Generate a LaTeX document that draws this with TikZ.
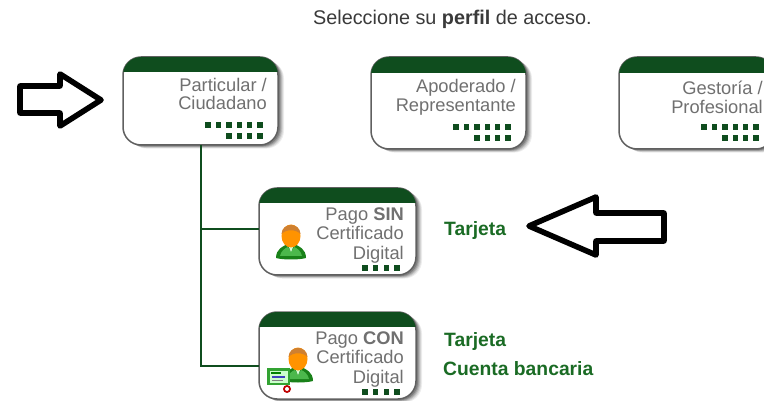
\documentclass[tikz,border=0pt]{standalone}
\usepackage{fontspec}
\setmainfont{Liberation Sans}
\definecolor{hdr}{HTML}{0F4D1E}
\definecolor{lbl}{HTML}{707070}
\definecolor{hd}{HTML}{3A3A3A}
\definecolor{tg}{HTML}{1A6B24}
\definecolor{edge}{HTML}{606060}
\tikzset{
  cardbox/.style={draw=edge,fill=white,line width=1.5pt,rounded corners=18pt,inner sep=0pt,outer sep=0pt},
  cardlabel/.style={text=lbl,align=right,inner sep=0pt,font=\fontsize{18.3}{18.6}\selectfont},
  optlabel/.style={text=tg,inner sep=0pt,anchor=base west,font=\fontsize{19.3}{20}\selectfont\bfseries},
  tree/.style={draw=hdr,line width=2pt},
  bigarrow/.style={draw=black,line width=5.6pt,fill=white,line join=round},
  dotsq/.style={fill=hdr}
}
\newcommand{\card}[6]{%
  \foreach \d/\o in {6/.07,5/.09,4/.12,3/.15,2/.2}{
    \fill[black,opacity=\o,rounded corners=18pt] ({#2+\d},{#3+\d*.6}) rectangle ({#4+\d},{#5+\d*.6});
  }
  \node[cardbox,minimum width={(#4-#2)*1pt},minimum height={(#5-#3)*1pt}] (#1) at ({(#2+#4)/2},{(#3+#5)/2}) {};
  \begin{scope}
    \clip[rounded corners=18pt] (#2,#3) rectangle (#4,#5);
    \fill[hdr] (#2,#3) rectangle (#4,#6);
  \end{scope}
}
\newcommand{\sq}[2]{\fill[dotsq] ({#1-2.7},{#2-2.7}) rectangle ({#1+2.7},{#2+2.7});}
\newcommand{\sixdots}[3]{%
  \foreach \i in {0,...,5}{\sq{#1+\i*10.4}{#2}}
  \foreach \i in {2,...,5}{\sq{#1+\i*10.4}{#3}}
}
\newcommand{\fourdots}[2]{\foreach \i in {0,...,3}{\sq{#1+\i*10.6}{#2}}}
\newcommand{\person}[2]{%
  \begin{scope}[shift={(#1,#2)}]
    \fill[green!45!black!90] (-15,21) .. controls (-15,12) and (-8,9) .. (-3,7) -- (3,7) .. controls (8,9) and (15,12) .. (15,21) .. controls (8,23) and (-8,23) .. (-15,21) -- cycle;
    \fill[green!60!black!70] (-11,19) .. controls (-10,14) and (-6,11) .. (-3,10) -- (0,15) -- (3,10) .. controls (6,11) and (10,14) .. (11,19) -- cycle;
    \fill[white!85!green] (-3,8) -- (0,15) -- (3,8) -- cycle;
    \fill[orange!85!yellow] (0,-1) ellipse (9.5 and 11.5);
    \fill[brown!75!orange] (-9.5,-3) .. controls (-9,-15) and (9,-15) .. (9.5,-3) .. controls (5,-8) and (-5,-8) .. (-9.5,-3) -- cycle;
  \end{scope}
}
\begin{document}
\begin{tikzpicture}[x=1pt,y=-1pt]
\useasboundingbox (0,0) rectangle (764,401);
\clip (0,0) rectangle (764,401);
\fill[white] (0,0) rectangle (764,401);

\node[text=hd,inner sep=0pt,anchor=base west,font=\fontsize{19.8}{20}\selectfont] (title) at (313,24.5) {Seleccione su \textbf{perfil} de acceso.};

% connectors
\coordinate (s1in) at (259,229);
\coordinate (s2in) at (259,366);

\card{p}{123}{57}{278}{145}{72}
\card{a}{371}{57}{526}{149}{73}
\card{g}{619}{57}{774}{149}{73}
\card{s1}{259}{188}{416}{275}{203}
\card{s2}{259}{312}{416}{399}{327}

\draw[tree] (p.south) |- (s2in);
\draw[tree] (p.south |- s1in) -- (s1in);

\node[cardlabel,anchor=east] (pt) at (267,94) {Particular /\\Ciudadano};
\node[cardlabel,anchor=east] (at) at (516,97.5) {Apoderado /\\Representante};
\node[cardlabel,anchor=east] (gt) at (763,97.5) {Gestoría /\\Profesional};
\node[cardlabel,anchor=east,font=\fontsize{18.3}{19.6}\selectfont] (s1t) at (404,235.5) {Pago \textbf{SIN}\\Certificado\\Digital};
\node[cardlabel,anchor=east,font=\fontsize{18.3}{19.6}\selectfont] (s2t) at (404,359.5) {Pago \textbf{CON}\\Certificado\\Digital};

\sixdots{208}{125}{136}
\sixdots{456}{127}{138}
\sixdots{704}{127}{138}
\fourdots{365}{268}
\fourdots{365}{392}

\person{291}{237}
\person{298}{360}
% certificate
\fill[green!55!black!80] (267,368) rectangle (290,385);
\fill[white!80!green] (269.5,370.5) rectangle (287.5,382.5);
\fill[green!50!black] (271,372) rectangle (281,374);
\fill[blue!50!gray] (272,376) rectangle (285,378);
\fill[gray] (272,379.5) rectangle (283,381);
\fill[red!75!black] (287,389) circle (4);
\fill[white] (287,389) circle (2);

\node[optlabel] (o1) at (444,236) {Tarjeta};
\node[optlabel] (o2) at (444,346) {Tarjeta};
\node[optlabel] (o3) at (443,375) {Cuenta bancaria};

\draw[bigarrow] (20,86) -- (60,86) -- (60,74) -- (101,100) -- (60,126) -- (60,113) -- (20,113) -- cycle;
\draw[bigarrow] (664,213) -- (596,213) -- (596,197) -- (529,226) -- (596,255) -- (596,241) -- (664,241) -- cycle;
\end{tikzpicture}
\end{document}
